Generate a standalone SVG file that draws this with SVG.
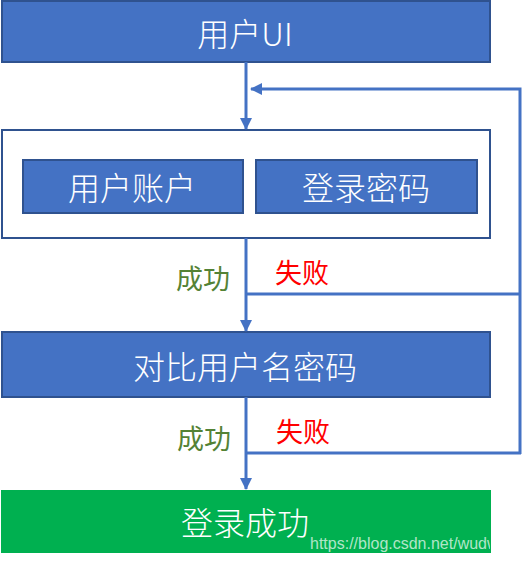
<svg xmlns="http://www.w3.org/2000/svg" width="526" height="562" viewBox="0 0 526 562">
<style>
.box{fill:#4472C4;stroke:#2F528F;stroke-width:2}
.t{font-family:"Noto Sans CJK SC","Liberation Sans",sans-serif;font-weight:300;fill:#fff;font-size:32px;text-anchor:middle;dominant-baseline:central}
.lbl{font-family:"Noto Sans CJK SC","Liberation Sans",sans-serif;font-size:27px;dominant-baseline:central}
.c{fill:none;stroke:#4472C4;stroke-width:3}
</style>
<defs>
<marker id="ah" markerWidth="12" markerHeight="12" viewBox="0 0 12 12" refX="11" refY="6" orient="auto" markerUnits="userSpaceOnUse">
<path d="M0,0 L12,6 L0,12 Z" fill="#4472C4"/>
</marker>
<clipPath id="clipG"><rect x="2" y="490" width="488" height="63"/></clipPath>
</defs>
<g id="node-ui">
<rect class="box" x="2" y="1" width="488" height="61"/>
<text class="t" x="245" y="32">用户UI</text>
</g>
<g id="node-input">
<rect x="2" y="130" width="488" height="108" fill="#fff" stroke="#2F528F" stroke-width="2"/>
</g>
<g id="node-account">
<rect class="box" x="23" y="160" width="220" height="53"/>
<text class="t" x="132" y="186">用户账户</text>
</g>
<g id="node-password">
<rect class="box" x="256" y="160" width="221" height="53"/>
<text class="t" x="366" y="186">登录密码</text>
</g>
<g id="node-compare">
<rect class="box" x="2" y="332" width="488" height="65"/>
<text class="t" x="245" y="365">对比用户名密码</text>
</g>
<g id="node-success">
<rect x="1" y="490" width="490" height="63" fill="#00B050"/>
<text class="t" x="245" y="521">登录成功</text>
<text clip-path="url(#clipG)" x="310" y="543" font-family="'Liberation Sans',sans-serif" font-size="16" fill="#fff" fill-opacity="0.7" dominant-baseline="central">https://blog.csdn.net/wudw</text>
</g>
<g id="connectors">
<line class="c" x1="246" y1="62" x2="246" y2="129" marker-end="url(#ah)"/>
<polyline class="c" points="520,454 520,89 251,89" marker-end="url(#ah)"/>
<line class="c" x1="246" y1="238" x2="246" y2="331" marker-end="url(#ah)"/>
<line class="c" x1="246" y1="294" x2="521" y2="294"/>
<line class="c" x1="246" y1="397" x2="246" y2="489" marker-end="url(#ah)"/>
<line class="c" x1="246" y1="453" x2="521" y2="453"/>
<text class="lbl" x="176" y="277" fill="#548235">成功</text>
<text class="lbl" x="275" y="271" fill="#FF0000">失败</text>
<text class="lbl" x="177" y="437" fill="#548235">成功</text>
<text class="lbl" x="276" y="430" fill="#FF0000">失败</text>
</g>
</svg>
